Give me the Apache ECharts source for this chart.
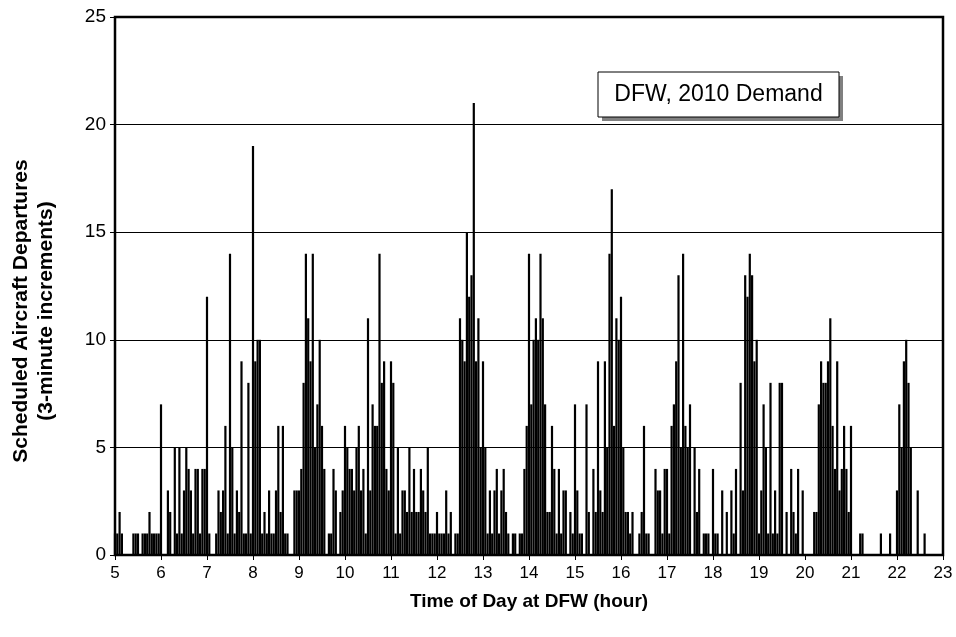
<!DOCTYPE html>
<html>
<head>
<meta charset="utf-8">
<script src="https://cdn.jsdelivr.net/npm/echarts@6/dist/echarts.min.js"></script>
<style>
html,body{margin:0;padding:0;background:#fff;}
#chart{width:956px;height:637px;}
</style>
</head>
<body>
<div id="chart"></div>
<script>
// Scheduled departures per 3-minute increment, grouped by 2-hour blocks (40 values each)
var startHour = 5;
var stepHours = 0.05; // 3 minutes
var dep05to07 = [1,1,2,1,0,0,0,0,1,1, 1,0,1,1,1,2,1,1,1,1, 7,0,0,3,2,0,5,1,5,1, 3,5,4,3,1,4,4,1,4,4];
var dep07to09 = [12,1,0,0,1,3,2,3,6,1, 14,5,1,3,2,9,1,1,8,1, 19,9,10,10,1,2,1,3,1,1, 3,6,2,6,1,1,0,0,3,3];
var dep09to11 = [3,4,8,14,11,9,14,5,7,10, 6,4,0,1,1,4,3,0,2,3, 6,5,4,4,3,5,6,3,4,1, 11,3,7,6,6,14,8,9,4,3];
var dep11to13 = [9,8,1,5,1,3,3,2,5,2, 4,2,2,4,3,2,5,1,1,1, 2,1,1,1,3,1,2,0,1,1, 11,10,9,15,12,13,21,9,11,5];
var dep13to15 = [9,5,1,3,1,3,4,1,3,4, 2,1,0,1,1,0,1,1,4,6, 14,7,10,11,10,14,11,7,2,2, 6,4,1,4,1,3,3,0,2,1];
var dep15to17 = [7,3,1,1,0,7,2,0,4,2, 9,3,2,9,5,14,17,6,11,10, 12,5,2,2,1,2,0,0,1,2, 6,1,1,0,0,4,3,3,1,4];
var dep17to19 = [4,1,6,7,9,13,5,14,6,5, 7,0,5,2,4,0,1,1,1,0, 4,1,1,0,3,0,2,0,3,1, 4,0,8,3,13,12,14,13,9,10];
var dep19to21 = [1,3,7,5,1,8,1,3,1,8, 8,0,2,0,4,2,1,4,0,3, 0,0,0,0,2,2,7,9,8,8, 9,11,6,4,9,3,4,6,4,2];
var dep21to23 = [6,0,0,0,1,1,0,0,0,0, 0,0,0,1,0,0,0,1,0,0, 3,7,5,9,10,8,5,0,0,3, 0,0,1,0,0,0,0,0,0,0];

var yTicks = [0, 5, 10, 15, 20, 25];
var xTicks = [5,6,7,8,9,10,11,12,13,14,15,16,17,18,19,20,21,22,23];

var allDep = [].concat(dep05to07, dep07to09, dep09to11, dep11to13, dep13to15,
                       dep15to17, dep17to19, dep19to21, dep21to23);
var seriesData = allDep.map(function (v, i) {
  return [+(startHour + i * stepHours).toFixed(4), v];
});

var FONT = "'Liberation Sans', Arial, Helvetica, sans-serif";
var chart = echarts.init(document.getElementById('chart'), null, {renderer: 'canvas'});
chart.setOption({
  backgroundColor: '#fff',
  animation: false,
  textStyle: {fontFamily: FONT, color: '#000'},
  grid: {
    left: 115, right: 13, top: 17, bottom: 82,
    show: true, borderColor: '#000', borderWidth: 2.5, backgroundColor: 'transparent'
  },
  xAxis: {
    type: 'value',
    min: xTicks[0], max: xTicks[xTicks.length - 1], interval: 1,
    axisLine: {show: true, lineStyle: {color: '#000', width: 2}},
    axisTick: {show: true, length: 5, lineStyle: {color: '#000', width: 1}},
    axisLabel: {fontSize: 17, color: '#000', fontFamily: FONT, margin: 10},
    splitLine: {show: false},
    name: 'Time of Day at DFW (hour)',
    nameLocation: 'middle',
    nameGap: 37,
    nameTextStyle: {fontSize: 19, fontWeight: 'bold', color: '#000', fontFamily: FONT}
  },
  yAxis: {
    type: 'value',
    min: yTicks[0], max: yTicks[yTicks.length - 1], interval: 5,
    axisLine: {show: true, lineStyle: {color: '#000', width: 2}},
    axisTick: {show: true, length: 5, lineStyle: {color: '#000', width: 1}},
    axisLabel: {fontSize: 19, color: '#000', fontFamily: FONT, margin: 9},
    splitLine: {show: true, lineStyle: {color: '#000', width: 1}}
  },
  graphic: [
    {type: 'text', x: 34, y: 311, rotation: Math.PI / 2, z: 50,
     style: {text: 'Scheduled Aircraft Departures\n(3-minute increments)',
             font: 'bold 21px ' + FONT, fill: '#000', align: 'center', verticalAlign: 'middle', lineHeight: 25}},
    {type: 'rect', shape: {x: 602, y: 76, width: 241, height: 45}, style: {fill: '#808080'}, z: 100},
    {type: 'rect', shape: {x: 598, y: 72, width: 241, height: 45}, style: {fill: '#fff', stroke: '#000', lineWidth: 1}, z: 101},
    {type: 'text', x: 718.5, y: 95, z: 102,
     style: {text: 'DFW, 2010 Demand', font: '23px ' + FONT, fill: '#000', align: 'center', verticalAlign: 'middle'}}
  ],
  series: [{
    type: 'bar',
    data: seriesData,
    barWidth: 2.2,
    itemStyle: {color: '#000'},
    silent: true
  }]
});
</script>
</body>
</html>
